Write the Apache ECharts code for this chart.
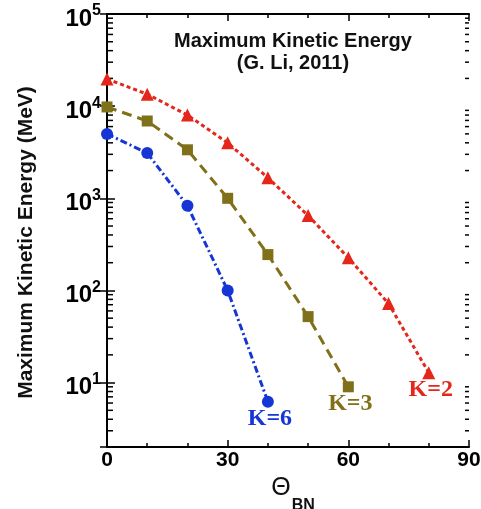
<!DOCTYPE html>
<html>
<head>
<meta charset="utf-8">
<script src="https://cdn.jsdelivr.net/npm/echarts@6/dist/echarts.min.js"></script>
<style>
  html, body { margin: 0; padding: 0; background: #fff; }
  #main { width: 481px; height: 509px; }
</style>
</head>
<body>
<div id="main"></div>
<script>
// theta_BN (degrees)
var thetaK2 = [0, 10, 20, 30, 40, 50, 60, 70, 80];
var thetaK3 = [0, 10, 20, 30, 40, 50, 60];
var thetaK6 = [0, 10, 20, 30, 40];
// max kinetic energy (MeV)
var energyK2 = [19700, 13500, 8000, 4000, 1670, 650, 226, 72, 12.8];
var energyK3 = [9800, 6900, 3360, 1000, 245, 52, 9];
var energyK6 = [5000, 3100, 830, 100, 6.2];
// minor ticks on the log axis
var yMinorTicks = [3, 4, 5, 6, 7, 8, 9, 20, 30, 40, 50, 60, 70, 80, 90,
  200, 300, 400, 500, 600, 700, 800, 900, 2000, 3000, 4000, 5000, 6000, 7000, 8000, 9000,
  20000, 30000, 40000, 50000, 60000, 70000, 80000, 90000];

var FONT = '"Liberation Sans", Arial, sans-serif';
var SERIF = '"Liberation Serif", "Times New Roman", serif';

var myChart = echarts.init(document.getElementById('main'));

function makeData(xs, ys) {
  var last = xs.length - 1;
  return xs.map(function (x, i) {
    var item = { value: [x, ys[i]] };
    if (i === last) item.label = { show: true };
    return item;
  });
}

function lineSeries(name, xs, ys, color, symbol, size, dash) {
  return {
    name: name,
    type: 'line',
    data: makeData(xs, ys),
    symbol: symbol,
    symbolSize: size,
    itemStyle: { color: color },
    lineStyle: { color: color, width: 3, type: dash },
    label: {
      show: false,
      position: 'bottom',
      distance: 0,
      offset: [2, 1],
      formatter: name,
      fontFamily: SERIF,
      fontWeight: 'bold',
      fontSize: 24,
      lineHeight: 20,
      color: color
    },
    z: 3
  };
}

var option = {
  animation: false,
  backgroundColor: '#fff',
  title: {
    text: 'Maximum Kinetic Energy\n(G. Li, 2011)',
    left: 288,
    top: 25,
    textAlign: 'center',
    textStyle: {
      fontFamily: FONT,
      fontWeight: 'bold',
      fontSize: 20,
      lineHeight: 22,
      color: '#111'
    }
  },
  grid: { left: 107, right: 12, top: 14, bottom: 62, outerBoundsMode: 'none', containLabel: false },
  xAxis: [{
    type: 'value',
    min: 0,
    max: 90,
    interval: 30,
    position: 'bottom',
    name: '{t|Θ}{s|BN}',
    nameLocation: 'middle',
    nameGap: 19,
    nameTextStyle: {
      padding: [0, 0, 0, 10],
      rich: {
        t: { fontFamily: FONT, fontSize: 25, lineHeight: 25, color: '#111', verticalAlign: 'bottom', padding: [0, 0, 13, 0] },
        s: { fontFamily: FONT, fontSize: 16, lineHeight: 16, fontWeight: 'bold', color: '#111', verticalAlign: 'bottom', padding: [0, 0, 0, 1] }
      }
    },
    axisLine: { lineStyle: { color: '#000', width: 2 } },
    axisTick: { inside: true, length: 7, lineStyle: { color: '#000', width: 1.5 } },
    minorTick: { show: true, splitNumber: 3, length: 4, lineStyle: { color: '#000', width: 1.5 } },
    splitLine: { show: false },
    axisLabel: { fontFamily: FONT, fontWeight: 'bold', fontSize: 21, color: '#000', margin: 3 }
  }, {
    type: 'value',
    min: 0,
    max: 90,
    interval: 30,
    position: 'top',
    axisLine: { lineStyle: { color: '#000', width: 2 } },
    axisTick: { inside: true, length: 7, lineStyle: { color: '#000', width: 1.5 } },
    minorTick: { show: true, splitNumber: 3, length: 4, lineStyle: { color: '#000', width: 1.5 } },
    splitLine: { show: false },
    axisLabel: { show: false }
  }],
  yAxis: [{
    type: 'log',
    logBase: 10,
    min: 2,
    max: 100000,
    position: 'left',
    name: 'Maximum Kinetic Energy (MeV)',
    nameLocation: 'middle',
    nameGap: 70,
    nameTextStyle: { fontFamily: FONT, fontWeight: 'bold', fontSize: 21, color: '#111', padding: [0, 24, 0, 0] },
    axisLine: { show: true, lineStyle: { color: '#000', width: 2 } },
    axisTick: { inside: true, length: 8, lineStyle: { color: '#000', width: 1.5 } },
    splitLine: { show: false },
    axisLabel: {
      margin: 6,
      padding: [6, 0, 0, 0],
      formatter: function (v) {
        var p = Math.round(Math.log(v) / Math.LN10);
        if (Math.abs(Math.pow(10, p) - v) / v > 1e-6) return '';
        return '{b|10}{s|' + p + '}';
      },
      rich: {
        b: { fontFamily: FONT, fontWeight: 'bold', fontSize: 24, color: '#000', verticalAlign: 'bottom' },
        s: { fontFamily: FONT, fontWeight: 'bold', fontSize: 16, color: '#000', verticalAlign: 'bottom', padding: [0, 0, 12, 0] }
      }
    }
  }, {
    type: 'log',
    logBase: 10,
    min: 2,
    max: 100000,
    position: 'right',
    axisLine: { show: true, lineStyle: { color: '#000', width: 2 } },
    axisTick: { inside: true, length: 7, lineStyle: { color: '#000', width: 1.5 } },
    splitLine: { show: false },
    axisLabel: { show: false }
  }],
  series: [
    lineSeries('K=2', thetaK2, energyK2, '#e5261a', 'triangle', 13, [4, 3]),
    lineSeries('K=3', thetaK3, energyK3, '#80701a', 'rect', 11, [10, 6]),
    lineSeries('K=6', thetaK6, energyK6, '#1535d5', 'circle', 12, [7, 3, 2, 3]),
    {
      // minor log ticks, left and right edges
      type: 'custom',
      silent: true,
      clip: false,
      data: yMinorTicks.map(function (v) { return [0, v]; }),
      encode: { x: 0, y: 1 },
      renderItem: function (params, api) {
        var v = api.value(1);
        var l = api.coord([0, v]);
        var r = api.coord([90, v]);
        var st = { stroke: '#000', lineWidth: 1.5 };
        return {
          type: 'group',
          children: [
            { type: 'line', shape: { x1: l[0], y1: l[1], x2: l[0] + 6, y2: l[1] }, style: st },
            { type: 'line', shape: { x1: r[0], y1: r[1], x2: r[0] - 4, y2: r[1] }, style: st }
          ]
        };
      },
      z: 2
    }
  ]
};

myChart.setOption(option);
</script>
</body>
</html>
